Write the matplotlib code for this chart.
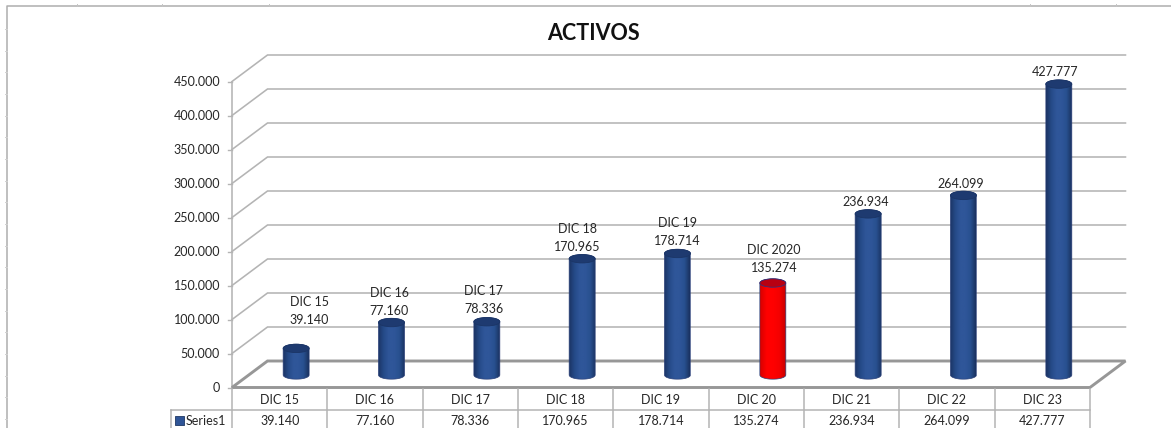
import numpy as np
import matplotlib
matplotlib.use('Agg')
import matplotlib.pyplot as plt
from matplotlib.patches import Ellipse, PathPatch, Polygon, Rectangle
from matplotlib.path import Path
from matplotlib.colors import LinearSegmentedColormap

plt.rcParams['font.family'] = ['Lato', 'DejaVu Sans']

categories = ['DIC 15', 'DIC 16', 'DIC 17', 'DIC 18', 'DIC 19', 'DIC 20', 'DIC 21', 'DIC 22', 'DIC 23']
values = [39140, 77160, 78336, 170965, 178714, 135274, 236934, 264099, 427777]
value_labels = ['39.140', '77.160', '78.336', '170.965', '178.714', '135.274', '236.934', '264.099', '427.777']
point_labels = ['DIC 15\n39.140', 'DIC 16\n77.160', 'DIC 17\n78.336', 'DIC 18\n170.965', 'DIC 19\n178.714',
                'DIC 2020\n135.274', '236.934', '264.099', '427.777']
y_ticks = [0, 50000, 100000, 150000, 200000, 250000, 300000, 350000, 400000, 450000]
y_tick_labels = ['0', '50.000', '100.000', '150.000', '200.000', '250.000', '300.000', '350.000', '400.000', '450.000']
# hand placed label centres in the original, pixels
label_px = [309, 389, 484, 577, 677, 774, 866, 961, 1055]
label_py = [311, 302, 300, 238, 232, 259, 202, 184, 72]

# pixel layout of the fake 3d box
X0, Y0 = 232, 387.5
CAT_W = 95.33
PX_PER_VAL = 0.68 / 1000
DEPTH_X, DEPTH_Y = 35.5, 26.5
GRID = '#b4b4b4'
FLOOR = '#979797'
TEXT = '#262626'
FS = 9


def pix(px, py):
    return (px - X0) / CAT_W - 0.5, (Y0 - py) / PX_PER_VAL


fig = plt.figure(figsize=(11.71, 4.28), dpi=100)
ax = fig.add_axes([0, 0, 1, 1])
ax.axis('off')
xlim = (pix(0, 0)[0], pix(1171, 0)[0])
ylim = (pix(0, 428)[1], pix(0, 0)[1])

dx, dy = DEPTH_X / CAT_W, DEPTH_Y / PX_PER_VAL
x_left, x_right = -0.5, len(categories) - 0.5

# sheet border
ax.plot(*zip(pix(7, 428), pix(7, 6), pix(1171, 6)), color='#adadad', lw=1.1, zorder=1)
for px in [77, 162, 269, 1030, 1116]:
    ax.plot(*zip(pix(px, 4), pix(px, 6)), color='#c4c4c4', lw=0.7, zorder=1)
for py in [29, 51, 72, 94, 116, 137, 159, 181, 202, 224, 246, 267, 289, 311, 332, 354, 376, 397, 419]:
    ax.plot(*zip(pix(5, py), pix(7, py)), color='#d0d0d0', lw=0.7, zorder=1)

# walls and floor
for v in y_ticks[1:]:
    ax.plot([x_left, x_left + dx, x_right + dx], [v, v + dy, v + dy], color=GRID, lw=1.15, zorder=1,
            solid_joinstyle='miter')
ax.plot([x_left, x_left], [0, y_ticks[-1]], color=GRID, lw=1.15, zorder=1)
ax.add_patch(Polygon([(x_left, 0), (x_left + dx, dy), (x_right + dx, dy), (x_right, 0)], closed=True,
                     fc='white', ec=FLOOR, lw=2.1, zorder=2, joinstyle='miter'))
for v, lab in zip(y_ticks, y_tick_labels):
    ax.plot(*zip(pix(228, Y0 - v * PX_PER_VAL), pix(232, Y0 - v * PX_PER_VAL)), color=GRID, lw=1, zorder=1)
    ax.text(*pix(220, Y0 - v * PX_PER_VAL + 0.5), lab, ha='right', va='center', fontsize=FS, color=TEXT)

# cylinders
blue_cm = LinearSegmentedColormap.from_list('b', ['#1b3464', '#254a88', '#2f5699', '#2f5699', '#28508f', '#1a3260'])
red_cm = LinearSegmentedColormap.from_list('r', ['#d80000', '#ff0000', '#ff0000', '#f50000', '#c80000'])
half_w = 13 / CAT_W
ry = 4.2 / PX_PER_VAL
shift_x, shift_y = 16.5 / CAT_W, 12.5 / PX_PER_VAL
grad = np.linspace(0, 1, 64).reshape(1, -1)

for i, v in enumerate(values):
    is_red = categories[i] == 'DIC 20'
    cx = i + shift_x
    base = shift_y
    top = v + shift_y
    t = np.linspace(np.pi, 2 * np.pi, 30)
    low_x = cx + half_w * np.cos(t)
    low_y = base + ry * np.sin(t)
    t2 = t[::-1]
    up_x = cx + half_w * np.cos(t2)
    up_y = top - ry * np.sin(t2)
    verts = np.vstack([np.c_[low_x, low_y], np.c_[up_x, up_y], [[low_x[0], low_y[0]]]])
    body = PathPatch(Path(verts, closed=True), fc='none', ec='#2a3f78', lw=0.5, zorder=4)
    ax.add_patch(body)
    im = ax.imshow(grad, extent=(cx - half_w, cx + half_w, base - ry, top + ry), aspect='auto',
                   cmap=red_cm if is_red else blue_cm, zorder=3.5, interpolation='bilinear')
    im.set_clip_path(body)
    ax.add_patch(Ellipse((cx, top), 2 * half_w, 2 * ry, fc='#b80012' if is_red else '#1e3a70',
                         ec='#34307a' if is_red else '#1b3566', lw=0.6, zorder=5))

ax.set_xlim(xlim)
ax.set_ylim(ylim)

# data labels
for lab, px, py in zip(point_labels, label_px, label_py):
    ax.text(*pix(px, py), lab, ha='center', va='center', fontsize=FS, color=TEXT, zorder=6, linespacing=1.6)

# data table under the chart
table_top, row_line, table_bot = 388.5, 409.5, 428
for i in range(len(categories) + 1):
    px = X0 + i * CAT_W
    ax.plot(*zip(pix(px, table_top), pix(px, table_bot)), color=GRID, lw=1.1, zorder=2)
ax.plot(*zip(pix(171, row_line), pix(X0 + len(categories) * CAT_W, row_line)), color=GRID, lw=1.1, zorder=2)
ax.plot(*zip(pix(171, row_line), pix(171, table_bot)), color=GRID, lw=1.1, zorder=2)
for i, (cat, lab) in enumerate(zip(categories, value_labels)):
    ax.text(i, pix(0, 400.5)[1], cat, ha='center', va='center', fontsize=FS, color=TEXT)
    ax.text(i, pix(0, 421)[1], lab, ha='center', va='center', fontsize=FS, color=TEXT)
ax.add_patch(Rectangle(pix(175, 424.5), 9 / CAT_W, 9 / PX_PER_VAL, fc='#2f5597', ec='#1f3864', lw=0.6, zorder=3))
ax.text(*pix(186, 421), 'Series1', ha='left', va='center', fontsize=FS, color=TEXT)

ax.text(*pix(593, 33), 'ACTIVOS', ha='center', va='center', fontsize=15.5, fontweight='bold', color='#111111')

fig.savefig('out.png', dpi=100, facecolor='white')
